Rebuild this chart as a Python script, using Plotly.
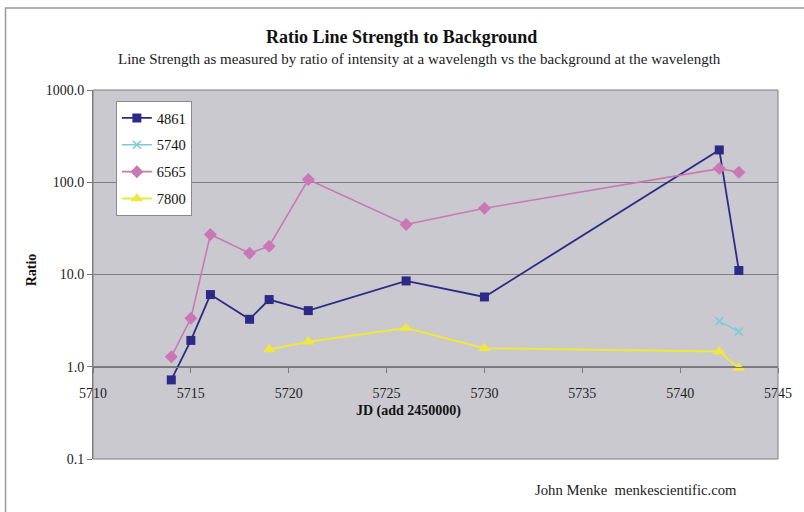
import plotly.graph_objects as go

# Julian dates (JD - 2450000) and measured line/background ratios
jd_4861 = [5714, 5715, 5716, 5718, 5719, 5721, 5726, 5730, 5742, 5743]
ratio_4861 = [0.72, 1.93, 6.06, 3.27, 5.35, 4.06, 8.52, 5.71, 224.0, 11.05]

jd_5740 = [5742, 5743]
ratio_5740 = [3.11, 2.40]

jd_6565 = [5714, 5715, 5716, 5718, 5719, 5721, 5726, 5730, 5742, 5743]
ratio_6565 = [1.28, 3.35, 27.2, 17.0, 20.3, 107.0, 34.9, 52.2, 140.6, 128.5]

jd_7800 = [5719, 5721, 5726, 5730, 5742, 5743]
ratio_7800 = [1.54, 1.87, 2.63, 1.59, 1.46, 0.97]

y_tickvals = [0.1, 1, 10, 100, 1000]
y_ticktext = ["0.1", "1.0", "10.0", "100.0", "1000.0"]

SERIF = "Liberation Serif, Times New Roman, serif"
W, H = 804, 512
ML, MR, MT, MB = 93, 22, 90, 53
PW, PH = W - ML - MR, H - MT - MB


def px(x):
    return (x - ML) / PW


def py(y):
    return (H - MB - y) / PH


fig = go.Figure()

series = [
    ("4861", jd_4861, ratio_4861, "#2D2A86", "square", 9, 1.8, {}),
    ("5740", jd_5740, ratio_5740, "#7CCCD4", "x-thin-open", 8, 1.5, {"line": {"width": 1.6, "color": "#7CCCD4"}}),
    ("6565", jd_6565, ratio_6565, "#C978B5", "diamond", 10, 1.6, {}),
    ("7800", jd_7800, ratio_7800, "#F0E83C", "triangle-up", 11, 2.0, {}),
]

for name, xs, ys, color, symbol, size, lw, extra in series:
    marker = dict(symbol=symbol, size=size, color=color)
    marker.update(extra)
    fig.add_trace(go.Scatter(
        x=xs, y=ys, name=name, mode="lines+markers",
        line=dict(color=color, width=lw),
        marker=marker,
        legendgroup=name,
    ))

fig.update_layout(
    width=W, height=H,
    margin=dict(l=ML, r=MR, t=MT, b=MB),
    paper_bgcolor="white",
    plot_bgcolor="#CAC9CF",
    font=dict(family=SERIF, size=13, color="#222222"),
    showlegend=True,
    legend=dict(
        x=px(116), y=py(101), xanchor="left", yanchor="top",
        bgcolor="white", bordercolor="#8A8A8A", borderwidth=1,
        font=dict(family=SERIF, size=14.5, color="#111111"),
        itemwidth=30, traceorder="grouped", tracegroupgap=5,
    ),
    xaxis=dict(
        range=[5710, 5745], dtick=5, tick0=5710,
        anchor="free", position=0.25,
        showgrid=False, zeroline=False,
        showline=True, linecolor="#7A7A7A", linewidth=1,
        ticks="outside", ticklen=5, tickcolor="#7A7A7A",
        ticklabelstandoff=8,
        tickfont=dict(family=SERIF, size=14, color="#222222"),
    ),
    yaxis=dict(
        type="log", range=[-1, 3],
        tickvals=y_tickvals, ticktext=y_ticktext,
        showgrid=True, gridcolor="#7E7E7E", gridwidth=1,
        showline=True, linecolor="#7A7A7A", linewidth=1,
        ticks="outside", ticklen=5, tickcolor="#7A7A7A",
        tickfont=dict(family=SERIF, size=14, color="#222222"),
    ),
)

# plot-area frame and outer chart frame
fig.add_shape(type="rect", xref="x domain", yref="y domain", x0=0, x1=1, y0=0, y1=1,
              line=dict(color="#7E7E7E", width=1), layer="above")
fig.add_shape(type="rect", xref="paper", yref="paper",
              x0=px(5), x1=px(W + 20), y0=py(8), y1=py(H + 20),
              line=dict(color="#9A9A9A", width=1.5))

annotations = [
    dict(text="<b>Ratio Line Strength to Background</b>", x=px(403), y=py(37),
         font=dict(family=SERIF, size=18, color="#111111")),
    dict(text="Line Strength as measured by ratio of intensity at a wavelength vs the background at the wavelength",
         x=px(421), y=py(59), font=dict(family=SERIF, size=15, color="#222222")),
    dict(text="<b>JD (add 2450000)</b>", x=px(410), y=py(411),
         font=dict(family=SERIF, size=14, color="#111111")),
    dict(text="<b>Ratio</b>", x=px(31), y=py(270), textangle=-90,
         font=dict(family=SERIF, size=14, color="#111111")),
    dict(text="John Menke  menkescientific.com", x=px(639), y=py(490),
         font=dict(family=SERIF, size=14.7, color="#222222")),
]
for a in annotations:
    fig.add_annotation(xref="paper", yref="paper", xanchor="center", yanchor="middle",
                       showarrow=False, **a)

fig.write_html("out.html")
